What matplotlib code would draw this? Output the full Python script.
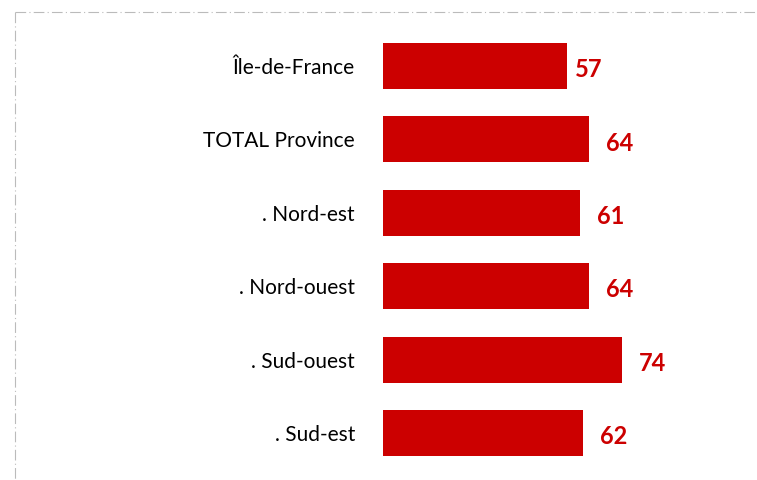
import matplotlib
matplotlib.use("Agg")
import matplotlib.pyplot as plt
from matplotlib.lines import Line2D

categories = ["Île-de-France", "TOTAL Province", ". Nord-est", ". Nord-ouest", ". Sud-ouest", ". Sud-est"]
values = [57, 64, 61, 64, 74, 62]

W, H = 757, 481
fig = plt.figure(figsize=(W / 100, H / 100), dpi=100)
fig.patch.set_facecolor("white")

x0 = 383
scale = 3.225  # px per unit
ax = fig.add_axes([x0 / W, 0, (W - x0) / W, 1])
ax.set_xlim(0, (W - x0) / scale)
spacing = 73.4
top_center = 67
ax.set_ylim((H - top_center) / spacing, -top_center / spacing)
ax.axis("off")

red = "#CC0000"
ypos = list(range(len(categories)))
ax.barh(ypos, values, height=46 / spacing, color=red, edgecolor="none")

font = "Lato"
for i, (c, v) in enumerate(zip(categories, values)):
    fig.text(355 / W, 1 - (top_center + i * spacing + 1) / H, c, ha="right", va="center",
             fontsize=15, family=font, color="#000000")
    gap = 8 if i == 0 else 17
    ax.annotate(str(v), (v, i), xytext=(gap * 0.72, -2), textcoords="offset points",
                ha="left", va="center", fontsize=17, fontweight="bold", family=font, color=red)

# dash-dot border (top and left)
ls = (0, (9.6, 2.9, 1, 2.9))
bx, by = 14.5, 12.5
fig.add_artist(Line2D([bx / W, 1], [1 - by / H, 1 - by / H], transform=fig.transFigure,
                      color="#BBBBBB", lw=0.8, linestyle=ls))
fig.add_artist(Line2D([bx / W, bx / W], [1 - by / H, 0], transform=fig.transFigure,
                      color="#BBBBBB", lw=0.8, linestyle=ls))

fig.savefig("out.png", dpi=100)
